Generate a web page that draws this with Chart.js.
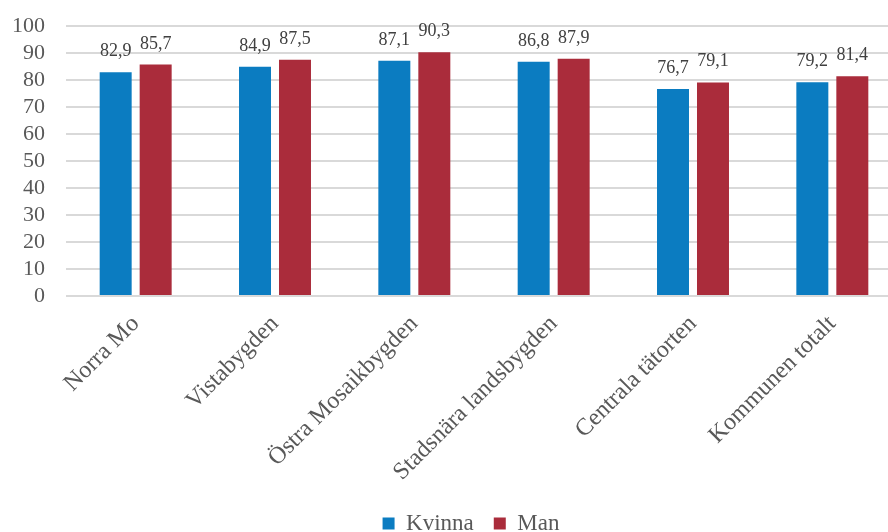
<!DOCTYPE html>
<html>
<head>
<meta charset="utf-8">
<script src="https://cdn.jsdelivr.net/npm/chart.js@4.4.1/dist/chart.umd.min.js"></script>
<style>
  html, body { margin: 0; padding: 0; background: #fff; overflow: hidden; }
  #wrap { width: 932px; height: 532px; }
</style>
</head>
<body>
<div id="wrap"><canvas id="chart" width="932" height="532"></canvas></div>
<script>
// Data
const omraden = ["Norra Mo", "Vistabygden", "Östra Mosaikbygden", "Stadsnära landsbygden", "Centrala tätorten", "Kommunen totalt"];
const kvinna = [82.9, 84.9, 87.1, 86.8, 76.7, 79.2];
const man = [85.7, 87.5, 90.3, 87.9, 79.1, 81.4];
const yTicks = [0, 10, 20, 30, 40, 50, 60, 70, 80, 90, 100];

const textColor = "#595959";
const serif = "'Liberation Serif', 'Times New Roman', serif";

Chart.defaults.font.family = serif;
Chart.defaults.color = textColor;

// values above the bars, with decimal comma
const valueLabels = {
  id: "valueLabels",
  afterDatasetsDraw(chart) {
    const ctx = chart.ctx;
    ctx.save();
    ctx.font = "18px " + serif;
    ctx.fillStyle = "#404040";
    ctx.textAlign = "center";
    ctx.textBaseline = "alphabetic";
    chart.data.datasets.forEach((ds, i) => {
      chart.getDatasetMeta(i).data.forEach((bar, j) => {
        ctx.fillText(ds.data[j].toFixed(1).replace(".", ","), bar.x, bar.y - 16);
      });
    });
    ctx.restore();
  }
};

// the chart is cut on the right, so nudge the legend to where it sits in the picture
const legendShift = {
  id: "legendShift",
  afterLayout(chart) {
    chart.legend.left += 20;
    chart.legend.right += 20;
  }
};

new Chart(document.getElementById("chart"), {
  type: "bar",
  data: {
    labels: omraden,
    datasets: [
      { label: "Kvinna", data: kvinna, backgroundColor: "#0B7CC1" },
      { label: "Man", data: man, backgroundColor: "#AA2C3B" }
    ]
  },
  options: {
    responsive: false,
    animation: false,
    categoryPercentage: 0.574,
    barPercentage: 0.8,
    layout: { padding: { top: 26, right: 30, left: 0, bottom: -13 } },
    plugins: {
      tooltip: { enabled: false },
      legend: {
        position: "bottom",
        labels: {
          color: textColor,
          font: { family: serif, size: 23 },
          boxWidth: 12,
          boxHeight: 12,
          padding: 20
        }
      }
    },
    scales: {
      x: {
        grid: { display: false },
        border: { display: false },
        ticks: {
          color: textColor,
          font: { family: serif, size: 24 },
          minRotation: 45,
          maxRotation: 45,
          padding: 6
        },
        afterFit(scale) {
          scale.height = 196;
          scale.paddingLeft = 0;
          scale.paddingRight = 0;
        }
      },
      y: {
        min: 0,
        max: 100,
        afterBuildTicks(scale) { scale.ticks = yTicks.map(v => ({ value: v })); },
        grid: { color: "#d9d9d9", lineWidth: 2, drawTicks: false },
        border: { display: false },
        ticks: {
          color: textColor,
          font: { family: serif, size: 22 },
          padding: 21,
          autoSkip: false
        },
        afterFit(scale) {
          scale.width = 66;
          scale.paddingTop = 0;
          scale.paddingBottom = 0;
        }
      }
    }
  },
  plugins: [valueLabels, legendShift]
});
</script>
</body>
</html>
